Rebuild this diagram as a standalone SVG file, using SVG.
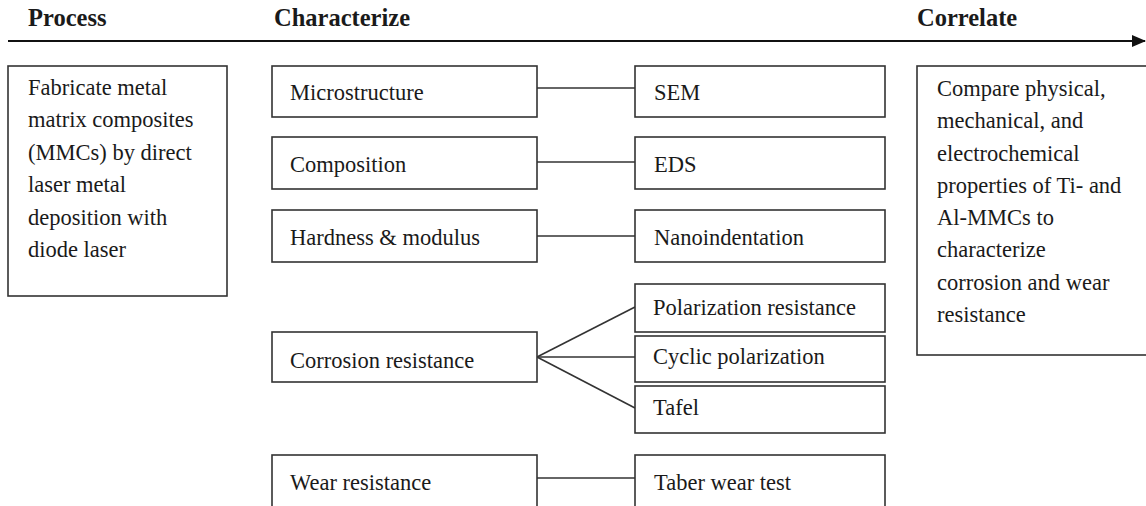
<svg xmlns="http://www.w3.org/2000/svg" width="1146" height="506" viewBox="0 0 1146 506">
<style>
.box{fill:#fff;stroke:#333;stroke-width:1.6}
.t{font-family:"Liberation Serif","Times New Roman",serif;font-size:22.5px;fill:#1a1a1a}
.h{font-family:"Liberation Serif","Times New Roman",serif;font-size:24.5px;font-weight:bold;fill:#1a1a1a}
.c{stroke:#333;stroke-width:1.6;fill:none}
</style>
<defs>
<marker id="ah" markerWidth="14" markerHeight="12" refX="13" refY="6" orient="auto" markerUnits="userSpaceOnUse">
<path d="M0,0 L14,6 L0,12 Z" fill="#111"/>
</marker>
</defs>
<rect width="1146" height="506" fill="#fff"/>
<g id="headers">
<text class="h" x="28" y="26">Process</text>
<text class="h" x="274" y="26">Characterize</text>
<text class="h" x="917" y="26">Correlate</text>
</g>
<g id="connectors">
<line x1="8" y1="41" x2="1145" y2="41" stroke="#111" stroke-width="2" marker-end="url(#ah)"/>
<line class="c" x1="537" y1="88" x2="635" y2="88"/>
<line class="c" x1="537" y1="162" x2="635" y2="162"/>
<line class="c" x1="537" y1="236" x2="635" y2="236"/>
<line class="c" x1="537" y1="357" x2="635" y2="307"/>
<line class="c" x1="537" y1="357" x2="635" y2="357"/>
<line class="c" x1="537" y1="357" x2="635" y2="408"/>
<line class="c" x1="537" y1="478" x2="635" y2="478"/>
</g>
<g id="process">
<rect class="box" x="8" y="66" width="219" height="230"/>
<text class="t" x="28" y="95">Fabricate metal</text>
<text class="t" x="28" y="127">matrix composites</text>
<text class="t" x="28" y="160">(MMCs) by direct</text>
<text class="t" x="28" y="192">laser metal</text>
<text class="t" x="28" y="225">deposition with</text>
<text class="t" x="28" y="257">diode laser</text>
</g>
<g id="microstructure">
<rect class="box" x="272" y="66" width="265" height="51"/>
<text class="t" x="290" y="100">Microstructure</text>
</g>
<g id="composition">
<rect class="box" x="272" y="137" width="265" height="52"/>
<text class="t" x="290" y="172">Composition</text>
</g>
<g id="hardness">
<rect class="box" x="272" y="210" width="265" height="52"/>
<text class="t" x="290" y="245">Hardness &amp; modulus</text>
</g>
<g id="corrosion">
<rect class="box" x="272" y="332" width="265" height="50"/>
<text class="t" x="290" y="368">Corrosion resistance</text>
</g>
<g id="wear">
<rect class="box" x="272" y="455" width="265" height="54"/>
<text class="t" x="290" y="490">Wear resistance</text>
</g>
<g id="sem">
<rect class="box" x="635" y="66" width="250" height="51"/>
<text class="t" x="654" y="100">SEM</text>
</g>
<g id="eds">
<rect class="box" x="635" y="137" width="250" height="52"/>
<text class="t" x="654" y="172">EDS</text>
</g>
<g id="nanoindentation">
<rect class="box" x="635" y="210" width="250" height="52"/>
<text class="t" x="654" y="245">Nanoindentation</text>
</g>
<g id="polarization">
<rect class="box" x="635" y="284" width="250" height="48"/>
<text class="t" x="653" y="315">Polarization resistance</text>
</g>
<g id="cyclic">
<rect class="box" x="635" y="336" width="250" height="46"/>
<text class="t" x="653" y="364">Cyclic polarization</text>
</g>
<g id="tafel">
<rect class="box" x="635" y="386" width="250" height="47"/>
<text class="t" x="653" y="415">Tafel</text>
</g>
<g id="taber">
<rect class="box" x="635" y="455" width="250" height="54"/>
<text class="t" x="654" y="490">Taber wear test</text>
</g>
<g id="correlate">
<rect class="box" x="917" y="66" width="235" height="289"/>
<text class="t" x="937" y="96">Compare physical,</text>
<text class="t" x="937" y="128">mechanical, and</text>
<text class="t" x="937" y="161">electrochemical</text>
<text class="t" x="937" y="193">properties of Ti- and</text>
<text class="t" x="937" y="225">Al-MMCs to</text>
<text class="t" x="937" y="257">characterize</text>
<text class="t" x="937" y="290">corrosion and wear</text>
<text class="t" x="937" y="322">resistance</text>
</g>
</svg>
